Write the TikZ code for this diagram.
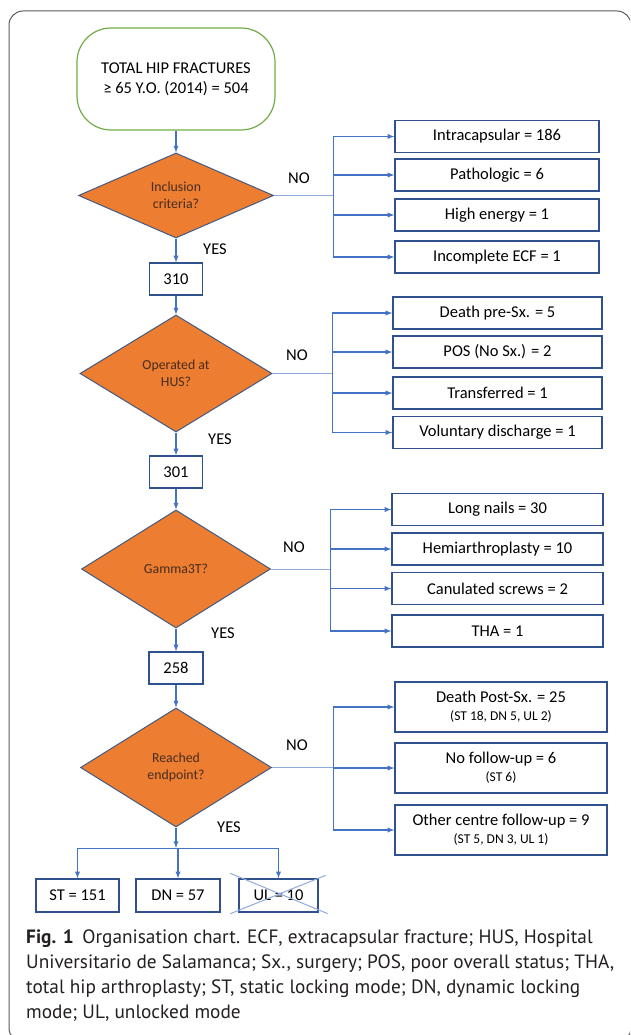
\documentclass[tikz,border=0pt]{standalone}
\usepackage{fontspec}
\setmainfont{Carlito}
\newfontfamily\capfont{PT Sans}
\usetikzlibrary{shapes.geometric,calc}
\definecolor{boxblue}{RGB}{47,82,143}
\definecolor{arrblue}{RGB}{68,114,196}
\definecolor{tieblue}{RGB}{143,170,220}
\definecolor{decorange}{RGB}{237,125,49}
\definecolor{decedge}{RGB}{65,90,130}
\definecolor{startgreen}{RGB}{112,173,71}
\definecolor{dectext}{RGB}{70,45,30}
\definecolor{framegrey}{RGB}{90,90,90}
\definecolor{captext}{RGB}{35,31,32}

\begin{document}
\begin{tikzpicture}[x=1pt, y=-1pt, >=latex,
    box/.style={draw=boxblue, line width=1.3pt, inner sep=0pt, minimum height=32pt, align=center, font=\fontsize{16.5}{18}\selectfont},
    dec/.style={diamond, draw=decedge, line width=1pt, fill=decorange, inner sep=0pt, align=center, text=dectext, font=\fontsize{13.8}{17}\selectfont},
    arr/.style={->, draw=arrblue, line width=1.3pt},
    rail/.style={draw=arrblue, line width=0.9pt},
    tie/.style={draw=tieblue, line width=0.9pt},
    lab/.style={inner sep=0pt, font=\fontsize{16.5}{18}\selectfont}]
    \useasboundingbox (0,0) rectangle (630,1035);
    \begin{scope}
    \clip (0,0) rectangle (630,1035);
    \draw [framegrey, line width=1pt, rounded corners=14pt] (9,11) rectangle (631,1042);
    \end{scope}
    \node (a) [draw=startgreen, line width=1.2pt, rounded corners=34pt, minimum width=198pt, minimum height=102pt, align=center, font=\fontsize{16.5}{20}\selectfont] at (176, 79) {TOTAL HIP FRACTURES\\ ≥ 65 Y.O. (2014) = 504};
    \node (b) [dec, minimum width=195pt, minimum height=85pt] at (176, 195.5) {Inclusion\\ criteria?};
    \node (c) [box, minimum width=53pt] at (176, 279) {310};
    \node (d) [dec, minimum width=192pt, minimum height=117pt] at (176, 373.5) {Operated at\\ HUS?};
    \node (e) [box, minimum width=53pt] at (176, 472) {301};
    \node (f) [dec, minimum width=189pt, minimum height=118pt] at (176, 569) {Gamma3T?};
    \node (g) [box, minimum width=54pt] at (176, 668) {258};
    \node (h) [dec, minimum width=191pt, minimum height=119pt] at (176, 767.5) {Reached\\ endpoint?};
    \draw [arr] (a) -- (b);
    \draw [arr] (b) -- (c);
    \draw [arr] (c) -- (d);
    \draw [arr] (d) -- (e);
    \draw [arr] (e) -- (f);
    \draw [arr] (f) -- (g);
    \draw [arr] (g) -- (h);
    \node (nb) [lab] at (299, 178) {NO};
    \node (yb) [lab] at (215, 249) {YES};
    \node (nd) [lab] at (297, 355) {NO};
    \node (yd) [lab] at (220, 439) {YES};
    \node (nf) [lab] at (294, 547) {NO};
    \node (yf) [lab] at (223, 633) {YES};
    \node (nh) [lab] at (297, 745) {NO};
    \node (yh) [lab] at (229, 827) {YES};
    \node (b1) [box, minimum width=204pt] at (497, 136.5) {Intracapsular = 186};
    \node (b2) [box, minimum width=204pt] at (497, 175) {Pathologic = 6};
    \node (b3) [box, minimum width=204pt] at (497, 215) {High energy = 1};
    \node (b4) [box, minimum width=204pt] at (497, 257) {Incomplete ECF = 1};
    \coordinate (jb) at (333, 195.5);
    \draw [tie] (b) -- (jb);
    \draw [rail] (jb |- b1) -- (jb |- b4);
    \foreach \k in {1,...,4} \draw [arr] (jb |- b\k) -- (b\k);
    \node (d1) [box, minimum width=209pt] at (497.5, 313) {Death pre-Sx. = 5};
    \node (d2) [box, minimum width=209pt] at (497.5, 352) {POS (No Sx.) = 2};
    \node (d3) [box, minimum width=209pt] at (497.5, 393) {Transferred = 1};
    \node (d4) [box, minimum width=209pt] at (497.5, 432.5) {Voluntary discharge = 1};
    \coordinate (jd) at (332, 373.5);
    \draw [tie] (d) -- (jd);
    \draw [rail] (jd |- d1) -- (jd |- d4);
    \foreach \k in {1,...,4} \draw [arr] (jd |- d\k) -- (d\k);
    \node (f1) [box, minimum width=211pt] at (497.5, 509.5) {Long nails = 30};
    \node (f2) [box, minimum width=211pt] at (497.5, 549) {Hemiarthroplasty = 10};
    \node (f3) [box, minimum width=211pt] at (497.5, 588.5) {Canulated screws = 2};
    \node (f4) [box, minimum width=211pt] at (497.5, 631) {THA = 1};
    \coordinate (jf) at (330, 569);
    \draw [tie] (f) -- (jf);
    \draw [rail] (jf |- f1) -- (jf |- f4);
    \foreach \k in {1,...,4} \draw [arr] (jf |- f\k) -- (f\k);
    \node (h1) [box, minimum width=212pt, minimum height=50pt] at (501, 707) {Death Post-Sx. = 25\\ {\fontsize{13.5}{15}\selectfont (ST 18, DN 5, UL 2)}};
    \node (h2) [box, minimum width=212pt, minimum height=50pt] at (501, 768) {No follow-up = 6\\ {\fontsize{13.5}{15}\selectfont (ST 6)}};
    \node (h3) [box, minimum width=212pt, minimum height=50pt] at (501, 830) {Other centre follow-up = 9\\ {\fontsize{13.5}{15}\selectfont (ST 5, DN 3, UL 1)}};
    \coordinate (jh) at (333, 767.5);
    \draw [tie] (h) -- (jh);
    \draw [rail] (jh |- h1) -- (jh |- h3);
    \foreach \k in {1,...,3} \draw [arr] (jh |- h\k) -- (h\k);
    \node (i1) [box, minimum width=83pt, minimum height=33pt] at (77.5, 895.5) {ST = 151};
    \node (i2) [box, minimum width=84pt, minimum height=33pt] at (178, 895.5) {DN = 57};
    \node (i3) [box, minimum width=79pt, minimum height=33pt] at (278.5, 895.5) {UL = 10};
    \coordinate (ji) at (176, 848);
    \draw [arr] (h) -- (ji);
    \draw [rail] (ji -| i1) -- (ji -| i3);
    \foreach \k in {1,...,3} \draw [arr] (ji -| i\k) -- (i\k);
    \draw [tieblue, line width=1pt] ($(i3.north west)+(-8pt,5pt)$) -- ($(i3.south east)+(9pt,-1pt)$);
    \draw [tieblue, line width=1pt] ($(i3.north east)+(7pt,3pt)$) -- ($(i3.south west)+(-8pt,-1pt)$);
    \node (cap) [anchor=north west, inner sep=0pt, align=left, text=captext, font=\capfont\fontsize{19.3}{25}\selectfont] at (26, 930) {\textbf{Fig. 1}\hspace{.45em}Organisation chart. ECF, extracapsular fracture; HUS, Hospital\\ Universitario de Salamanca; Sx., surgery; POS, poor overall status; THA,\\ total hip arthroplasty; ST, static locking mode; DN, dynamic locking\\ mode; UL, unlocked mode};
\end{tikzpicture}
\end{document}
